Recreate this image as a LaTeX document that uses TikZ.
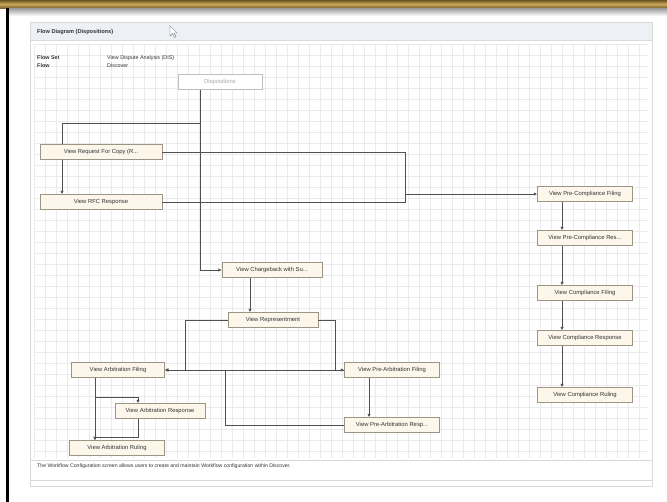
\documentclass[tikz,border=0pt]{standalone}
\usepackage{fontspec}
\setmainfont{Liberation Sans}
\usetikzlibrary{calc, arrows.meta, positioning}
\definecolor{cadre}{HTML}{9C9584}
\definecolor{creme}{HTML}{FCF7EA}
\definecolor{trait}{HTML}{505050}
\definecolor{grille}{HTML}{EAEBED}
\definecolor{bandeau}{HTML}{EDF0F4}
\definecolor{dore}{HTML}{C8A65A}
\definecolor{brun}{HTML}{6E5423}
\tikzstyle{etape} = [
    rectangle,
    minimum width = 2.85cm,
    minimum height = 0.45cm,
    text centered,
    inner sep = 1pt,
    draw = cadre,
    fill = creme,
    text = black!80,
    font = \fontsize{5}{6}\selectfont,
]
\tikzstyle{texte} = [anchor = west, inner sep = 0pt, text = black!80, font = \fontsize{4.6}{5.5}\selectfont]
\tikzstyle{lien} = [draw = trait, line width = 0.55pt]
\tikzstyle{fleche} = [lien, -{Latex[length = 3pt, width = 3pt]}]

\begin{document}
\begin{tikzpicture} [x = 0.03cm, y = -0.03cm]
    \useasboundingbox (0,0) rectangle (667,502);

    \shade[top color = brun, bottom color = brun!80!dore, middle color = dore] (0,0) rectangle (667,8);
    \shade[top color = black!40, bottom color = white] (9,8) rectangle (667,16);
    \fill[black] (6,8) rectangle (8.5,502);

    \draw[black!15, fill = white] (30,22) rectangle (652,486);
    \fill[bandeau] (30.5,22.5) rectangle (651.5,40);
    \draw[black!15] (30.5,40) -- (651.5,40);
    \foreach \x in {34,45,...,648} \draw[grille, line width = 0.3pt] (\x,44) -- (\x,458);
    \foreach \y in {44,55,...,458} \draw[grille, line width = 0.3pt] (34,\y) -- (648,\y);
    \draw[black!15] (30.5,460) -- (651.5,460);
    \draw[black!15] (30.5,480) -- (651.5,480);

    \draw[black!60, fill = white, line width = 0.3pt] (170,26) -- (170,36) -- (172.5,33.5) -- (174.5,37.5) -- (176,36.8) -- (174,33) -- (177,33) -- cycle;

    \node (Titre) [texte, font = \bfseries\fontsize{4.8}{5.5}\selectfont] at (37,32) {Flow Diagram (Dispositions)};
    \node (FlowSet) [texte, font = \bfseries\fontsize{4.6}{5.5}\selectfont] at (37,58) {Flow Set};
    \node (FlowSetNom) [texte] at (107,58) {View Dispute Analysis (DIS)};
    \node (Flow) [texte, font = \bfseries\fontsize{4.6}{5.5}\selectfont] at (37,66) {Flow};
    \node (FlowNom) [texte] at (107,66) {Discover};

    \node (Depart) [etape, draw = black!25, fill = white, text = black!35, minimum width = 2.52cm] at (220,82) {Dispositions};

    \node (ReqCopy) [etape, minimum width = 3.66cm] at (101,152) {View Request For Copy (R...};
    \node (RFCResp) [etape, minimum width = 3.66cm] at (101,202) {View RFC Response};

    \node (PCFiling) [etape] at (585,194) {View Pre-Compliance Filing};
    \node (PCResp) [etape] at (585,238) {View Pre-Compliance Res...};
    \node (CFiling) [etape] at (585,293) {View Compliance Filing};
    \node (CResp) [etape] at (585,338) {View Compliance Response};
    \node (CRuling) [etape] at (585,395) {View Compliance Ruling};

    \node (Chargeback) [etape, minimum width = 3cm] at (272,270) {View Chargeback with Su...};
    \node (Represent) [etape, minimum width = 2.7cm] at (273,320) {View Representment};

    \node (ArbFiling) [etape, minimum width = 2.8cm] at (118,370) {View Arbitration Filing};
    \node (ArbResp) [etape, minimum width = 2.7cm] at (160,411) {View Arbitration Response};
    \node (ArbRuling) [etape] at (117,448) {View Arbitration Ruling};

    \node (PAFiling) [etape] at (392,370) {View Pre-Arbitration Filing};
    \node (PAResp) [etape] at (392,425) {View Pre-Arbitration Resp...};

    \coordinate (Haut) at (200,123);
    \coordinate (Coude) at (405,194);
    \coordinate (Gauche) at (185,320);
    \coordinate (Droite) at (335,320);
    \coordinate (Milieu) at (225,370);
    \coordinate (Branche) at (95,397);
    \coordinate (Retour) at (138,437);

    \draw[lien] (Depart.south -| Haut) -- (Haut) -| ($(ReqCopy.north) + (-39,0)$);
    \draw[fleche] (Haut) |- (Chargeback.west);
    \draw[fleche] ($(ReqCopy.south) + (-39,0)$) -- ($(RFCResp.north) + (-39,0)$);
    \draw[fleche] (ReqCopy.east) -| (Coude) -- (PCFiling.west);
    \draw[lien] (RFCResp.east) -| (Coude);

    \foreach \a/\b in {PCFiling/PCResp, PCResp/CFiling, CFiling/CResp, CResp/CRuling}
        \draw[fleche] ($(\a.south) + (-23,0)$) -- ($(\b.north) + (-23,0)$);

    \draw[fleche] ($(Chargeback.south) + (-22,0)$) coordinate (c1) -- (c1 |- Represent.north);
    \draw[fleche] (Represent.west) -- (Gauche) |- (ArbFiling.east);
    \draw[fleche] (Represent.east) -- (Droite) |- (PAFiling.west);
    \draw[fleche] (PAFiling.west) -- (ArbFiling.east);
    \draw[lien] (PAResp.west) -| (Milieu);
    \draw[fleche] ($(PAFiling.south) + (-23,0)$) coordinate (c2) -- (c2 |- PAResp.north);

    \draw[fleche] (ArbFiling.south -| Branche) -- (ArbRuling.north -| Branche);
    \draw[fleche] (Branche) -| ($(ArbResp.north) + (-22,0)$);
    \draw[fleche] ($(ArbResp.south) + (-22,0)$) -- (Retour) -| (ArbRuling.north -| Branche);

    \node (Pied) [texte, font = \fontsize{4.4}{5}\selectfont] at (37,466) {The Workflow Configuration screen allows users to create and maintain Workflow configuration within Discover.};
\end{tikzpicture}
\end{document}
